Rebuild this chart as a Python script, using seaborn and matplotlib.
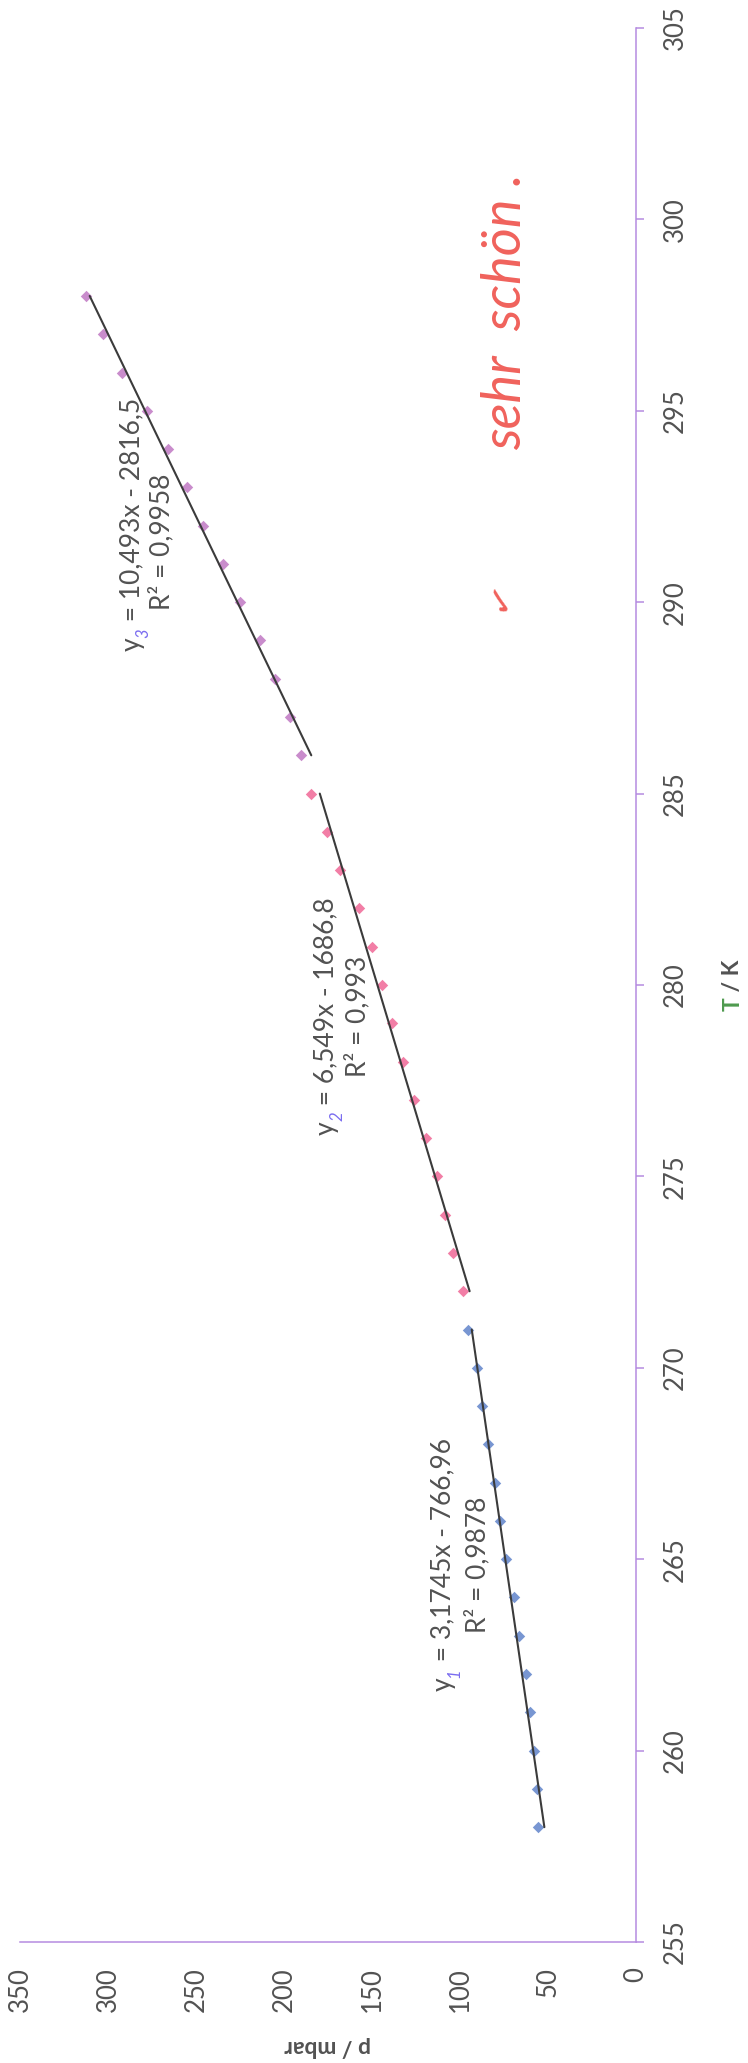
import matplotlib
matplotlib.use("Agg")
import matplotlib.pyplot as plt
import pandas as pd
import seaborn as sns

# Vapour pressure measurements: temperature in K, pressure in mbar
T_low = [258, 259, 260, 261, 262, 263, 264, 265, 266, 267, 268, 269, 270, 271]
p_low = [55.9, 56.5, 58.1, 60.3, 62.6, 66.5, 69.3, 73.6, 77.1, 79.9, 84.1, 87.3, 90.5, 95.6]

T_mid = [272, 273, 274, 275, 276, 277, 278, 279, 280, 281, 282, 283, 284, 285]
p_mid = [98.4, 103.8, 108.6, 112.8, 119.1, 126.3, 132.2, 138.4, 144.5, 149.9, 157.6, 167.9, 175.4, 184.7]

T_high = [286, 287, 288, 289, 290, 291, 292, 293, 294, 295, 296, 297, 298]
p_high = [190.1, 196.4, 205.0, 213.4, 224.8, 234.4, 246.2, 255.0, 265.9, 278.0, 291.8, 303.0, 312.7]

# Linear trendlines p = m*T + b, one per temperature range
fit_slopes = [3.1745, 6.549, 10.493]
fit_intercepts = [-766.96, -1686.8, -2816.5]
fit_rhs = ["= 3,1745x - 766,96", "= 6,549x - 1686,8", "= 10,493x - 2816,5"]
fit_r2 = ["R² = 0,9878", "R² = 0,993", "R² = 0,9958"]
fit_index = ["1", "2", "3"]

p_ticks = [0, 50, 100, 150, 200, 250, 300, 350]
T_ticks = [255, 260, 265, 270, 275, 280, 285, 290, 295, 300, 305]

# Styling
marker_colors = ["#7896d2", "#f27ea6", "#c98ccc"]
axis_color = "#b58be0"
text_color = "#525252"
line_color = "#3b3b3b"
pen_red = "#f0625c"
pen_violet = "#7a6cf0"
pen_green = "#4e9a4e"

sns.set_theme(style="white")
plt.rcParams["font.family"] = ["Lato", "DejaVu Sans"]

W, H = 748, 2063
fig = plt.figure(figsize=(W / 100, H / 100), dpi=100)
fig.patch.set_facecolor("white")
x_left, x_right, y_top, y_bottom = 20, 636, 28, 1942
ax = fig.add_axes([x_left / W, (H - y_bottom) / H,
                   (x_right - x_left) / W, (y_bottom - y_top) / H])
ax.set_facecolor("white")

series = [(T_low, p_low), (T_mid, p_mid), (T_high, p_high)]
for i, (T, p) in enumerate(series):
    df = pd.DataFrame({"T": T, "p": p})
    sns.scatterplot(data=df, x="p", y="T", marker="D", s=34, color=marker_colors[i],
                    linewidth=0, ax=ax, zorder=3, legend=False)
    T_fit = [T[0], T[-1]]
    p_fit = [fit_slopes[i] * t + fit_intercepts[i] for t in T_fit]
    sns.lineplot(x=p_fit, y=T_fit, sort=False, estimator=None, color=line_color,
                 linewidth=1.5, ax=ax, zorder=4, legend=False)

ax.set_xlim(350, 0)
ax.set_ylim(255, 305)
ax.set_xticks(p_ticks)
ax.set_yticks(T_ticks)
ax.set_xlabel("")
ax.set_ylabel("")
ax.yaxis.tick_right()

for side in ["left", "top"]:
    ax.spines[side].set_visible(False)
for side in ["bottom", "right"]:
    ax.spines[side].set_color(axis_color)
    ax.spines[side].set_linewidth(1.1)

ax.tick_params(axis="both", direction="out", length=6, width=1.1, color=axis_color,
               labelsize=18.5, labelcolor=text_color)
ax.tick_params(axis="x", pad=12, labelrotation=90)
ax.tick_params(axis="y", pad=13, labelrotation=90)
for lab in ax.get_yticklabels():
    lab.set_verticalalignment("center")
for lab in ax.get_xticklabels():
    lab.set_verticalalignment("top")

# Axis titles
ax.annotate("p / mbar", xy=(175, 0), xycoords=ax.get_xaxis_transform(),
            xytext=(0, -104), textcoords="offset pixels", rotation=180,
            ha="center", va="center", fontsize=16.5, fontweight="bold", color=text_color)

fig.canvas.draw()
renderer = fig.canvas.get_renderer()


def run_length(text, **kw):
    """Length in pixels of a vertical (90 degree) text run."""
    t = fig.text(0, 0, text, rotation=90, transform=None, **kw)
    h = t.get_window_extent(renderer).height
    t.remove()
    return h


def vertical_run(x, y, text, **kw):
    return fig.text(x, y, text, rotation=90, rotation_mode="anchor",
                    ha="left", va="center", transform=None, **kw)


# Temperature title: a green "T" followed by a grey "/ K", centred on the axis
title_kw = dict(fontsize=16.5, fontweight="bold")
cx, cy = ax.get_yaxis_transform().transform((1, 280))
cx += 97
len_t = run_length("T", **title_kw)
len_k = run_length(" / K", **title_kw)
y0 = cy - (len_t + len_k) / 2
vertical_run(cx, y0, "T", color=pen_green, **title_kw)
vertical_run(cx, y0 + len_t, " / K", color=text_color, **title_kw)

# Trendline labels: "y", a pen-written range index, then the right-hand side
eq_kw = dict(fontsize=19, color=text_color, zorder=5)
sub_kw = dict(fontsize=12, color=pen_violet, fontstyle="italic", zorder=6)
eq_pos = [(109.7, 264.86), (176.1, 279.19), (286.4, 292.03)]
r2_pos = [(90.3, 264.86), (158.5, 279.19), (269.9, 291.58)]
for i in range(3):
    ex, ey = ax.transData.transform(eq_pos[i])
    len_y = run_length("y", **eq_kw)
    len_s = run_length(fit_index[i], **sub_kw)
    len_r = run_length(" " + fit_rhs[i], **eq_kw)
    start = ey - (len_y + len_s + len_r) / 2
    vertical_run(ex, start, "y", **eq_kw)
    vertical_run(ex + 11, start + len_y, fit_index[i], **sub_kw)
    vertical_run(ex, start + len_y + len_s, " " + fit_rhs[i], **eq_kw)
    ax.text(*r2_pos[i], fit_r2[i], rotation=90, ha="center", va="center", **eq_kw)

# Pen remarks
ax.text(74, 297.6, "sehr  schön .", rotation=90, ha="center", va="center",
        fontsize=39, fontstyle="italic", color=pen_red)
ax.text(77.3, 290.15, "✓", rotation=70, ha="center", va="center",
        fontsize=26, color=pen_red, family=["DejaVu Sans"])

fig.savefig("out.png", dpi=100, facecolor="white")
